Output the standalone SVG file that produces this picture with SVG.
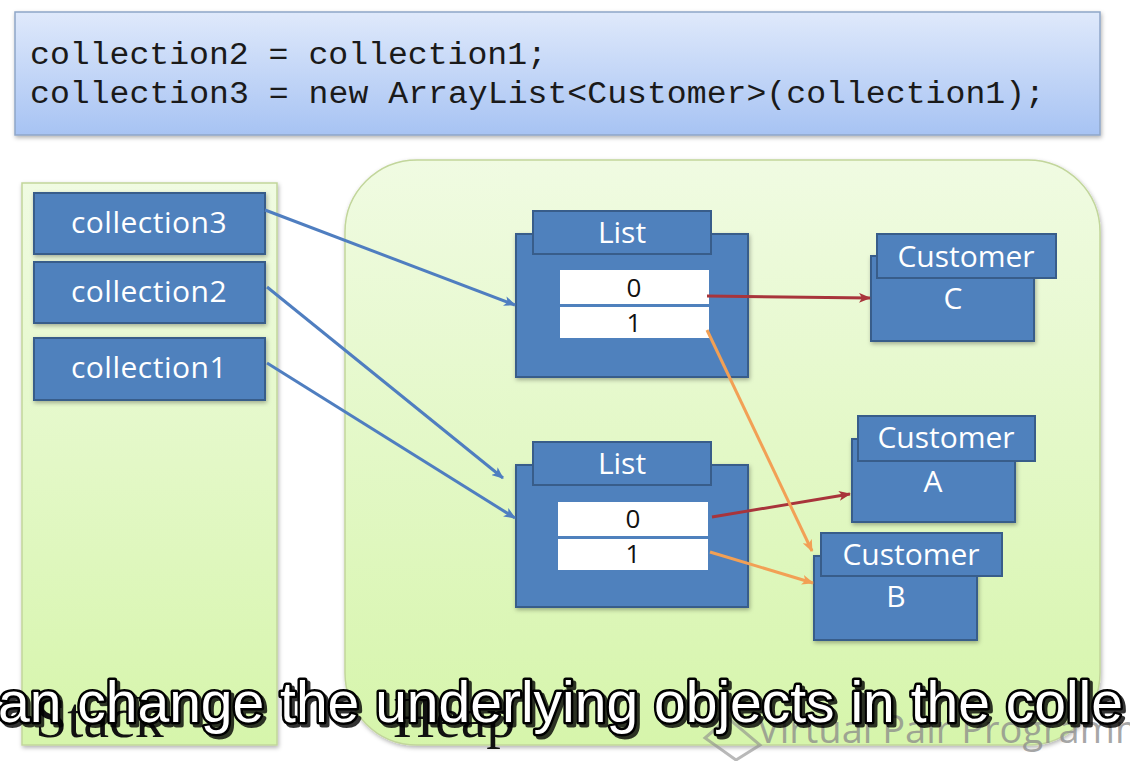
<svg xmlns="http://www.w3.org/2000/svg" width="1130" height="761" viewBox="0 0 1130 761">
<style>
.box{fill:#4f81bd;stroke:#385d8a;stroke-width:2}
.cell{fill:#ffffff}
.wt{font-family:"Open Sans","Liberation Sans",sans-serif;font-size:30px;fill:#ffffff;text-anchor:middle}
.num{font-family:"Open Sans","Liberation Sans",sans-serif;font-size:26px;fill:#111111;text-anchor:middle}
.code{font-family:"Liberation Mono","DejaVu Sans Mono",monospace;font-size:31px;fill:#1a1a1a}
.blue{stroke:#4f7ec0;stroke-width:3;fill:none}
.red{stroke:#a8343b;stroke-width:3;fill:none}
.orange{stroke:#f2a055;stroke-width:3;fill:none}
.big{font-family:"Liberation Serif",serif;font-size:58px;fill:#111111}
.sub{font-family:"Liberation Sans",Arial,sans-serif;font-size:57px;fill:#ffffff;stroke:#000000;stroke-width:5;paint-order:stroke;stroke-linejoin:round}
.wm{font-family:"Open Sans","Liberation Sans",sans-serif;font-size:38px;fill:#8a8a8a;fill-opacity:0.75}
</style>
<defs>
<linearGradient id="codeg" x1="0" y1="0" x2="0" y2="1">
<stop offset="0" stop-color="#dfe9fb"/>
<stop offset="1" stop-color="#a7c3f3"/>
</linearGradient>
<linearGradient id="greeng" x1="0" y1="0" x2="0" y2="1">
<stop offset="0" stop-color="#f0fbe2"/>
<stop offset="1" stop-color="#d6f5ab"/>
</linearGradient>
<filter id="sh" x="-10%" y="-10%" width="120%" height="120%">
<feDropShadow dx="1" dy="2" stdDeviation="2" flood-color="#000000" flood-opacity="0.3"/>
</filter>
<filter id="subsh" x="-5%" y="-20%" width="110%" height="150%">
<feDropShadow dx="3" dy="3" stdDeviation="0.5" flood-color="#000000" flood-opacity="0.8"/>
</filter>
<marker id="ab" viewBox="0 0 12 10" refX="11" refY="5" markerWidth="12" markerHeight="10" markerUnits="userSpaceOnUse" orient="auto">
<path d="M0,0 L12,5 L0,10 L3,5 Z" fill="#4f7ec0"/>
</marker>
<marker id="ar" viewBox="0 0 12 10" refX="11" refY="5" markerWidth="12" markerHeight="10" markerUnits="userSpaceOnUse" orient="auto">
<path d="M0,0 L12,5 L0,10 L3,5 Z" fill="#a8343b"/>
</marker>
<marker id="ao" viewBox="0 0 12 10" refX="11" refY="5" markerWidth="12" markerHeight="10" markerUnits="userSpaceOnUse" orient="auto">
<path d="M0,0 L12,5 L0,10 L3,5 Z" fill="#f2a055"/>
</marker>
</defs>
<rect width="1130" height="761" fill="#ffffff"/>

<g id="code">
<rect x="15" y="12" width="1085" height="123" fill="url(#codeg)" stroke="#8fa6c8" stroke-width="1.5" filter="url(#sh)"/>
<text class="code" x="30" y="64" textLength="517" lengthAdjust="spacingAndGlyphs">collection2 = collection1;</text>
<text class="code" x="30" y="103" textLength="1015" lengthAdjust="spacingAndGlyphs">collection3 = new ArrayList&lt;Customer&gt;(collection1);</text>
</g>

<g id="stack">
<rect x="22" y="183" width="255" height="562" fill="url(#greeng)" stroke="#c2d69b" stroke-width="1.5" filter="url(#sh)"/>
</g>
<g id="heap">
<rect x="345" y="160" width="755" height="585" rx="72" ry="72" fill="url(#greeng)" stroke="#c2d69b" stroke-width="1.5" filter="url(#sh)"/>
</g>

<g id="collection3">
<rect class="box" x="34" y="193" width="231" height="61" filter="url(#sh)"/>
<text class="wt" x="149" y="233" letter-spacing="0.5">collection3</text>
</g>
<g id="collection2">
<rect class="box" x="34" y="262" width="231" height="61" filter="url(#sh)"/>
<text class="wt" x="149" y="302" letter-spacing="0.5">collection2</text>
</g>
<g id="collection1">
<rect class="box" x="34" y="338" width="231" height="62" filter="url(#sh)"/>
<text class="wt" x="149" y="378" letter-spacing="0.5">collection1</text>
</g>

<g id="list1">
<rect class="box" x="516" y="234" width="232" height="143" filter="url(#sh)"/>
<rect class="box" x="533" y="211" width="178" height="43"/>
<text class="wt" x="622" y="243">List</text>
<rect class="cell" x="560" y="270" width="149" height="34"/>
<rect class="cell" x="560" y="307" width="149" height="31"/>
<text class="num" x="634" y="297">0</text>
<text class="num" x="634" y="332">1</text>
</g>

<g id="list2">
<rect class="box" x="516" y="465" width="232" height="142" filter="url(#sh)"/>
<rect class="box" x="533" y="442" width="178" height="43"/>
<text class="wt" x="622" y="474">List</text>
<rect class="cell" x="558" y="502" width="150" height="34"/>
<rect class="cell" x="558" y="539" width="150" height="31"/>
<text class="num" x="633" y="528">0</text>
<text class="num" x="633" y="563">1</text>
</g>

<g id="customerC">
<rect class="box" x="871" y="256" width="163" height="85" filter="url(#sh)"/>
<rect class="box" x="877" y="234" width="179" height="44"/>
<text class="wt" x="966" y="267">Customer</text>
<text class="wt" x="953" y="309">C</text>
</g>

<g id="customerA">
<rect class="box" x="852" y="439" width="163" height="83" filter="url(#sh)"/>
<rect class="box" x="858" y="416" width="177" height="45"/>
<text class="wt" x="946" y="448">Customer</text>
<text class="wt" x="933" y="492">A</text>
</g>

<g id="customerB">
<rect class="box" x="814" y="556" width="163" height="84" filter="url(#sh)"/>
<rect class="box" x="821" y="533" width="181" height="43"/>
<text class="wt" x="911" y="565">Customer</text>
<text class="wt" x="896" y="607">B</text>
</g>

<g id="connectors">
<line class="blue" x1="265" y1="210" x2="515" y2="305" marker-end="url(#ab)"/>
<line class="blue" x1="267" y1="287" x2="503" y2="478" marker-end="url(#ab)"/>
<line class="blue" x1="267" y1="363" x2="515" y2="518" marker-end="url(#ab)"/>
<line class="red" x1="707" y1="296" x2="870" y2="298" marker-end="url(#ar)"/>
<line class="red" x1="712" y1="517" x2="850" y2="494" marker-end="url(#ar)"/>
<line class="orange" x1="707" y1="330" x2="812" y2="551" marker-end="url(#ao)"/>
<line class="orange" x1="710" y1="552" x2="813" y2="583" marker-end="url(#ao)"/>
</g>

<g id="labels">
<text class="big" x="35" y="737">Stack</text>
<text class="big" x="393" y="737">Heap</text>
</g>

<g id="watermark">
<path d="M705,738 L728,718 L760,745 L736,760 Z M712,724 L730,710 L748,724" fill="none" stroke="#8a8a8a" stroke-opacity="0.6" stroke-width="3"/>
<text class="wm" x="757" y="743">Virtual Pair Programm</text>
</g>

<g id="subtitle" filter="url(#subsh)">
<text class="sub" x="-2" y="722">an change the underlying objects in the colle</text>
</g>
</svg>
